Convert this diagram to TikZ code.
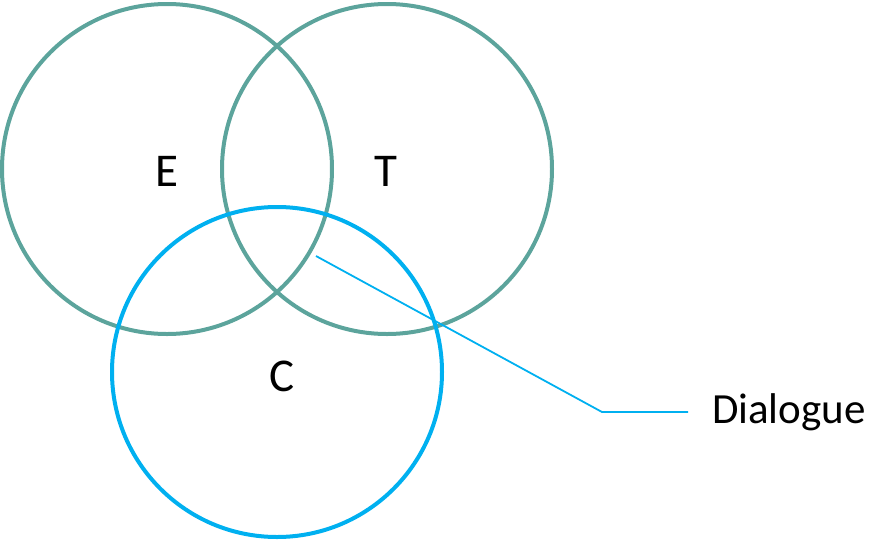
\documentclass[tikz,border=0pt]{standalone}
\usepackage{fontspec}
\setmainfont{Carlito}
\usetikzlibrary{calc, positioning}

\definecolor{vteal}{RGB}{92,164,156}
\definecolor{vblue}{RGB}{0,176,240}

\tikzset{
    ring/.style={circle, draw=vteal, line width=4pt, minimum size=330pt, inner sep=0pt},
    letter/.style={font=\fontsize{47}{50}\selectfont},
    leader/.style={draw=vblue, line width=1.8pt}
}

\begin{document}
\begin{tikzpicture}[x=1pt, y=-1pt]
                \useasboundingbox (0,0) rectangle (871,539);
                % the three sets
                \node[ring] (ering) at (167,169) {};
                \node[ring] (tring) at (387,169) {};
                \node[ring, draw=vblue] (cring) at (277,372) {};

                \foreach \n/\t/\x/\y in {e/E/167/171, t/T/386/171, c/C/282/376}
                \node[letter] (\n lbl) at (\x,\y) {\t};

                % callout
                \coordinate (tip) at (316,256);
                \coordinate (knee) at (602,412);
                \node[anchor=west, inner sep=2pt, outer sep=22pt, font=\fontsize{43}{48}\selectfont] (dlg) at (688,412) {Dialogue};
                \draw[leader] (tip) -- (knee) -- (dlg.west);
            \end{tikzpicture}
\end{document}
